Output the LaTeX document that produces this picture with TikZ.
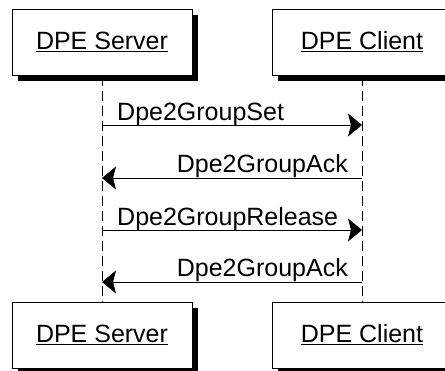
\documentclass[tikz,border=0pt]{standalone}
\usepackage{fontspec}
\setmainfont{Liberation Sans}
\usetikzlibrary{arrows.meta,shadows}

\begin{document}
\begin{tikzpicture}[x=1pt,y=-1pt]
\tikzset{actor/.style={draw,fill=white,line width=1pt,minimum width=180pt,minimum height=66pt,inner sep=0pt,drop shadow={shadow xshift=6pt,shadow yshift=-6pt,fill=black,opacity=1}}}
\tikzset{life/.style={line width=1pt,dash pattern=on 10pt off 5pt}}
\tikzset{msg/.style={line width=1pt,-{Stealth[length=14pt,width=23pt,inset=3pt]}}}
\tikzset{lbl/.style={inner sep=0pt}}

\fontsize{25}{30}\selectfont

\useasboundingbox (0,0) rectangle (445,370);
\clip (0,0) rectangle (445,370);

\node[actor] (srvTop) at (102,42) {\underline{DPE Server}};
\node[actor] (cliTop) at (362,42) {\underline{DPE Client}};
\node[actor] (srvBot) at (102,335) {\underline{DPE Server}};
\node[actor] (cliBot) at (362,335) {\underline{DPE Client}};

\draw[life] (srvTop) -- (srvBot);
\draw[life] (cliTop) -- (cliBot);

\coordinate (s1) at (102,125); \coordinate (c1) at (362,125);
\coordinate (s2) at (102,178); \coordinate (c2) at (362,178);
\coordinate (s3) at (102,230); \coordinate (c3) at (362,230);
\coordinate (s4) at (102,282); \coordinate (c4) at (362,282);

\draw[msg] (s1) -- (c1);
\draw[msg] (c2) -- (s2);
\draw[msg] (s3) -- (c3);
\draw[msg] (c4) -- (s4);

\node[lbl,anchor=base west] (set) at (117,120) {Dpe2GroupSet};
\node[lbl,anchor=base east] (ack1) at (348,172) {Dpe2GroupAck};
\node[lbl,anchor=base west] (rel) at (117,225) {Dpe2GroupRelease};
\node[lbl,anchor=base east] (ack2) at (348,276) {Dpe2GroupAck};

\end{tikzpicture}
\end{document}
